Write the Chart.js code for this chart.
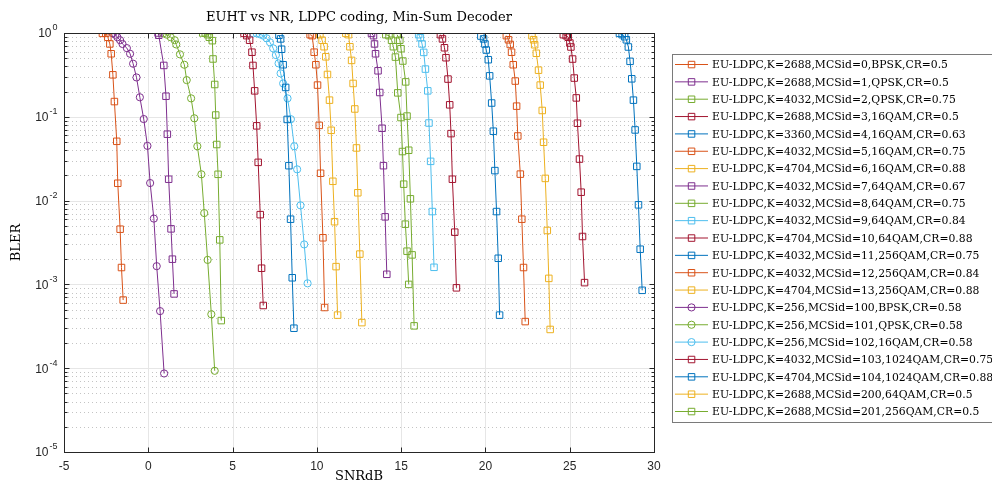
<!DOCTYPE html>
<html>
<head>
<meta charset="utf-8">
<script src="https://cdn.jsdelivr.net/npm/chart.js@4.4.0/dist/chart.umd.min.js"></script>
<style>
html, body { margin: 0; padding: 0; background: #fff; }
</style>
</head>
<body>
<canvas id="myChart" width="992" height="484"></canvas>
<script>
// SNR (dB) / BLER points per MCS
const snr0 = [-2.72, -2.52, -2.40, -2.28, -2.20, -2.10, -2.01, -1.87, -1.81, -1.67, -1.59, -1.49];
const bler0 = [0.99, 0.99, 0.89, 0.74, 0.565, 0.317, 0.152, 0.051, 0.0161, 0.00456, 0.00159, 0.00065];
const snr1 = [0.58, 0.62, 0.92, 1.05, 1.13, 1.21, 1.35, 1.43, 1.53];
const bler1 = [1.0, 0.94, 0.41, 0.176, 0.062, 0.018, 0.0046, 0.002, 0.00077];
const snr2 = [3.23, 3.38, 3.52, 3.62, 3.80, 3.84, 3.94, 4.00, 4.06, 4.14, 4.24, 4.33];
const bler2 = [1.0, 1.0, 0.955, 0.89, 0.81, 0.49, 0.243, 0.105, 0.0467, 0.0206, 0.0034, 0.00037];
const snr3 = [5.68, 5.84, 6.01, 6.15, 6.21, 6.31, 6.43, 6.52, 6.64, 6.72, 6.82];
const bler3 = [0.99, 0.93, 0.82, 0.59, 0.41, 0.204, 0.078, 0.0286, 0.0068, 0.00156, 0.00056];
const snr4 = [7.75, 7.85, 7.91, 8.00, 8.15, 8.24, 8.34, 8.44, 8.54, 8.64];
const bler4 = [0.94, 0.85, 0.64, 0.418, 0.224, 0.093, 0.0261, 0.006, 0.0012, 0.0003];
const snr5 = [9.60, 9.72, 9.84, 9.94, 10.04, 10.14, 10.22, 10.36, 10.46];
const bler5 = [0.955, 0.93, 0.59, 0.418, 0.239, 0.079, 0.0212, 0.0036, 0.00053];
const snr6 = [10.18, 10.31, 10.43, 10.53, 10.63, 10.75, 10.85, 10.95, 11.05, 11.14, 11.23];
const bler6 = [0.955, 0.82, 0.686, 0.52, 0.32, 0.158, 0.069, 0.017, 0.0056, 0.00163, 0.00043];
const snr7 = [13.24, 13.36, 13.42, 13.48, 13.63, 13.73, 13.87, 13.95, 14.05, 14.15];
const bler7 = [0.99, 0.93, 0.74, 0.565, 0.354, 0.195, 0.073, 0.0261, 0.0064, 0.00132];
const snr8 = [14.09, 14.28, 14.43, 14.54, 14.66, 14.80, 14.99, 15.08, 15.15, 15.25, 15.35, 15.45];
const bler8 = [0.955, 0.93, 0.82, 0.686, 0.516, 0.193, 0.098, 0.0385, 0.0157, 0.00523, 0.00249, 0.001];
const snr9 = [16.04, 16.14, 16.24, 16.34, 16.44, 16.58, 16.65, 16.75, 16.85, 16.95];
const bler9 = [0.955, 0.879, 0.74, 0.587, 0.371, 0.204, 0.0843, 0.0294, 0.0074, 0.0016];
const snr10 = [17.33, 17.45, 17.57, 17.66, 17.78, 17.88, 17.96, 18.04, 18.18, 18.28];
const bler10 = [0.955, 0.85, 0.667, 0.507, 0.282, 0.139, 0.063, 0.018, 0.0042, 0.00091];
const snr11 = [19.73, 19.89, 19.97, 20.05, 20.17, 20.25, 20.37, 20.47, 20.56, 20.66, 20.76, 20.84];
const bler11 = [0.92, 0.85, 0.74, 0.626, 0.48, 0.308, 0.146, 0.0673, 0.0228, 0.0074, 0.00205, 0.00043];
const snr12 = [21.24, 21.37, 21.47, 21.55, 21.65, 21.77, 21.85, 21.92, 22.07, 22.16, 22.26, 22.36];
const bler12 = [0.93, 0.83, 0.73, 0.59, 0.418, 0.267, 0.134, 0.059, 0.0207, 0.006, 0.00159, 0.00036];
const snr13 = [22.76, 22.86, 22.92, 23.02, 23.15, 23.25, 23.37, 23.45, 23.55, 23.67, 23.76, 23.84];
const bler13 = [0.93, 0.83, 0.724, 0.573, 0.36, 0.239, 0.119, 0.0497, 0.0184, 0.0044, 0.00118, 0.00029];
const snr100 = [-2.10, -1.95, -1.83, -1.67, -1.53, -1.27, -1.08, -0.90, -0.70, -0.50, -0.27, -0.05, 0.11, 0.33, 0.50, 0.70, 0.94];
const bler100 = [0.99, 0.955, 0.89, 0.82, 0.74, 0.66, 0.565, 0.43, 0.295, 0.171, 0.094, 0.045, 0.0162, 0.0061, 0.00165, 0.00048, 0.0000865];
const snr101 = [0.89, 1.10, 1.33, 1.57, 1.66, 1.88, 2.14, 2.28, 2.54, 2.73, 2.91, 3.15, 3.32, 3.52, 3.74, 3.94];
const bler101 = [0.99, 0.955, 0.89, 0.82, 0.73, 0.556, 0.418, 0.274, 0.166, 0.096, 0.0445, 0.0206, 0.0071, 0.00196, 0.00044, 0.0000931];
const snr102 = [6.23, 6.43, 6.62, 6.82, 7.02, 7.22, 7.41, 7.57, 7.73, 7.85, 8.00, 8.26, 8.46, 8.66, 8.83, 9.03, 9.25, 9.45];
const bler102 = [0.99, 0.99, 0.965, 0.93, 0.865, 0.774, 0.656, 0.545, 0.434, 0.33, 0.25, 0.166, 0.0936, 0.0445, 0.0236, 0.00877, 0.003, 0.00103];
const snr103 = [24.62, 24.79, 24.91, 25.01, 25.07, 25.17, 25.27, 25.39, 25.46, 25.58, 25.68, 25.76, 25.88];
const bler103 = [0.955, 0.93, 0.89, 0.759, 0.681, 0.489, 0.29, 0.168, 0.0838, 0.0313, 0.0126, 0.00373, 0.00105];
const snr104 = [27.95, 28.11, 28.26, 28.36, 28.48, 28.58, 28.68, 28.78, 28.88, 28.98, 29.08, 29.18, 29.30];
const bler104 = [0.99, 0.955, 0.903, 0.83, 0.681, 0.459, 0.284, 0.158, 0.0697, 0.0256, 0.0089, 0.00263, 0.00085];
const snr200 = [11.72, 11.88, 11.96, 12.06, 12.15, 12.25, 12.35, 12.43, 12.55, 12.67];
const bler200 = [0.99, 0.955, 0.686, 0.471, 0.25, 0.124, 0.0425, 0.0124, 0.0023, 0.00035];
const snr201 = [14.76, 14.92, 14.99, 15.10, 15.27, 15.35, 15.45, 15.55, 15.65, 15.77];
const bler201 = [0.955, 0.82, 0.649, 0.463, 0.261, 0.102, 0.0399, 0.0105, 0.00225, 0.00032];

const legendLabels = [
    'EU-LDPC,K=2688,MCSid=0,BPSK,CR=0.5',
    'EU-LDPC,K=2688,MCSid=1,QPSK,CR=0.5',
    'EU-LDPC,K=4032,MCSid=2,QPSK,CR=0.75',
    'EU-LDPC,K=2688,MCSid=3,16QAM,CR=0.5',
    'EU-LDPC,K=3360,MCSid=4,16QAM,CR=0.63',
    'EU-LDPC,K=4032,MCSid=5,16QAM,CR=0.75',
    'EU-LDPC,K=4704,MCSid=6,16QAM,CR=0.88',
    'EU-LDPC,K=4032,MCSid=7,64QAM,CR=0.67',
    'EU-LDPC,K=4032,MCSid=8,64QAM,CR=0.75',
    'EU-LDPC,K=4032,MCSid=9,64QAM,CR=0.84',
    'EU-LDPC,K=4704,MCSid=10,64QAM,CR=0.88',
    'EU-LDPC,K=4032,MCSid=11,256QAM,CR=0.75',
    'EU-LDPC,K=4032,MCSid=12,256QAM,CR=0.84',
    'EU-LDPC,K=4704,MCSid=13,256QAM,CR=0.88',
    'EU-LDPC,K=256,MCSid=100,BPSK,CR=0.58',
    'EU-LDPC,K=256,MCSid=101,QPSK,CR=0.58',
    'EU-LDPC,K=256,MCSid=102,16QAM,CR=0.58',
    'EU-LDPC,K=4032,MCSid=103,1024QAM,CR=0.75',
    'EU-LDPC,K=4704,MCSid=104,1024QAM,CR=0.88',
    'EU-LDPC,K=2688,MCSid=200,64QAM,CR=0.5',
    'EU-LDPC,K=2688,MCSid=201,256QAM,CR=0.5'
];

const xTicks = [-5, 0, 5, 10, 15, 20, 25, 30];
const yExponents = [0, -1, -2, -3, -4, -5];

// MATLAB default colours
const ORANGE = '#D95319', PURPLE = '#7E2F8E', GREEN = '#77AC30', DARKRED = '#A2142F',
      BLUE = '#0072BD', YELLOW = '#EDB120', LIGHTBLUE = '#4DBEEE';

const seriesList = [
    [snr0, bler0, ORANGE, 'rect'],
    [snr1, bler1, PURPLE, 'rect'],
    [snr2, bler2, GREEN, 'rect'],
    [snr3, bler3, DARKRED, 'rect'],
    [snr4, bler4, BLUE, 'rect'],
    [snr5, bler5, ORANGE, 'rect'],
    [snr6, bler6, YELLOW, 'rect'],
    [snr7, bler7, PURPLE, 'rect'],
    [snr8, bler8, GREEN, 'rect'],
    [snr9, bler9, LIGHTBLUE, 'rect'],
    [snr10, bler10, DARKRED, 'rect'],
    [snr11, bler11, BLUE, 'rect'],
    [snr12, bler12, ORANGE, 'rect'],
    [snr13, bler13, YELLOW, 'rect'],
    [snr100, bler100, PURPLE, 'circle'],
    [snr101, bler101, GREEN, 'circle'],
    [snr102, bler102, LIGHTBLUE, 'circle'],
    [snr103, bler103, DARKRED, 'rect'],
    [snr104, bler104, BLUE, 'rect'],
    [snr200, bler200, YELLOW, 'rect'],
    [snr201, bler201, GREEN, 'rect']
];

const datasets = seriesList.map((s, i) => ({
    label: legendLabels[i],
    data: s[0].map((x, k) => ({ x: x, y: s[1][k] })),
    borderColor: s[2],
    backgroundColor: 'rgba(0,0,0,0)',
    borderWidth: 1,
    pointStyle: s[3],
    pointRadius: s[3] === 'rect' ? 4.6 : 3.6,
    pointBorderWidth: 1,
    pointBorderColor: s[2],
    pointBackgroundColor: 'rgba(0,0,0,0)',
    tension: 0
}));

const SERIF = '"DejaVu Serif", "Liberation Serif", serif';
const SANS = '"Liberation Sans", Arial, sans-serif';

function drawMarker(ctx, style, x, y, color) {
    ctx.strokeStyle = color;
    ctx.lineWidth = 1;
    ctx.beginPath();
    if (style === 'circle') {
        ctx.arc(x, y, 3.6, 0, Math.PI * 2);
    } else {
        ctx.rect(x - 3.2, y - 3.2, 6.5, 6.5);
    }
    ctx.stroke();
}

const matlabFrame = {
    id: 'matlabFrame',
    beforeDatasetsDraw(chart) {
        const { ctx, chartArea: a, scales: { x, y } } = chart;
        ctx.save();
        ctx.lineWidth = 1;
        // minor y grid, dotted
        ctx.strokeStyle = '#c4c4c4';
        ctx.setLineDash([1, 3]);
        for (let e = -5; e < 0; e++) {
            for (let m = 2; m <= 9; m++) {
                const py = Math.round(y.getPixelForValue(m * Math.pow(10, e))) + 0.5;
                ctx.beginPath();
                ctx.moveTo(a.left, py);
                ctx.lineTo(a.right, py);
                ctx.stroke();
            }
        }
        // major grid
        ctx.setLineDash([]);
        ctx.strokeStyle = '#e6e6e6';
        yExponents.slice(1, -1).forEach(e => {
            const py = Math.round(y.getPixelForValue(Math.pow(10, e))) + 0.5;
            ctx.beginPath();
            ctx.moveTo(a.left, py);
            ctx.lineTo(a.right, py);
            ctx.stroke();
        });
        xTicks.slice(1, -1).forEach(t => {
            const px = Math.round(x.getPixelForValue(t)) + 0.5;
            ctx.beginPath();
            ctx.moveTo(px, a.top);
            ctx.lineTo(px, a.bottom);
            ctx.stroke();
        });
        ctx.restore();
    },
    afterDraw(chart) {
        const { ctx, chartArea: a, scales: { x, y } } = chart;
        ctx.save();
        const L = Math.round(a.left) + 0.5, R = Math.round(a.right) + 0.5;
        const T = Math.round(a.top) + 0.5, B = Math.round(a.bottom) + 0.5;
        ctx.strokeStyle = '#262626';
        ctx.lineWidth = 1;
        // ticks (inward, all four sides)
        ctx.beginPath();
        xTicks.forEach(t => {
            const px = Math.round(x.getPixelForValue(t)) + 0.5;
            ctx.moveTo(px, B); ctx.lineTo(px, B - 5);
            ctx.moveTo(px, T); ctx.lineTo(px, T + 5);
        });
        for (let e = -5; e <= 0; e++) {
            const py = Math.round(y.getPixelForValue(Math.pow(10, e))) + 0.5;
            ctx.moveTo(L, py); ctx.lineTo(L + 5, py);
            ctx.moveTo(R, py); ctx.lineTo(R - 5, py);
            if (e < 0) {
                for (let m = 2; m <= 9; m++) {
                    const pm = Math.round(y.getPixelForValue(m * Math.pow(10, e))) + 0.5;
                    ctx.moveTo(L, pm); ctx.lineTo(L + 3, pm);
                    ctx.moveTo(R, pm); ctx.lineTo(R - 3, pm);
                }
            }
        }
        ctx.stroke();
        ctx.strokeRect(L, T, R - L, B - T);

        // tick labels
        ctx.fillStyle = '#262626';
        ctx.font = '12px ' + SANS;
        ctx.textAlign = 'center';
        ctx.textBaseline = 'middle';
        xTicks.forEach(t => {
            ctx.fillText(String(t), x.getPixelForValue(t), B + 14);
        });
        yExponents.forEach(e => {
            const py = y.getPixelForValue(Math.pow(10, e));
            const ex = String(e);
            ctx.font = '9px ' + SANS;
            const ew = ctx.measureText(ex).width;
            ctx.textAlign = 'left';
            ctx.fillText(ex, L - 7 - ew, py - 5);
            ctx.font = '12px ' + SANS;
            ctx.textAlign = 'right';
            ctx.fillText('10', L - 8 - ew, py + 1);
        });

        // titles
        ctx.fillStyle = '#000';
        ctx.textAlign = 'center';
        ctx.font = '13px ' + SERIF;
        ctx.fillText('EUHT vs NR, LDPC coding, Min-Sum Decoder', (a.left + a.right) / 2, 18);
        ctx.fillText('SNRdB', (a.left + a.right) / 2, 477);
        ctx.save();
        ctx.translate(17, (a.top + a.bottom) / 2);
        ctx.rotate(-Math.PI / 2);
        ctx.fillText('BLER', 0, 0);
        ctx.restore();

        // legend box
        const lx = 672.5, ly = 54.5;
        ctx.fillStyle = '#fff';
        ctx.fillRect(lx, ly, 340, 368);
        ctx.strokeStyle = '#7a7a7a';
        ctx.strokeRect(lx, ly, 340, 368);
        ctx.font = '10.8px ' + SERIF;
        ctx.textAlign = 'left';
        seriesList.forEach((s, i) => {
            const cy = 64.5 + i * 17.35;
            ctx.strokeStyle = s[2];
            ctx.beginPath();
            ctx.moveTo(675, cy);
            ctx.lineTo(708, cy);
            ctx.stroke();
            drawMarker(ctx, s[3], 691.5, cy, s[2]);
            ctx.fillStyle = '#000';
            ctx.fillText(legendLabels[i], 712, cy + 1);
        });
        ctx.restore();
    }
};

new Chart(document.getElementById('myChart').getContext('2d'), {
    type: 'line',
    data: { datasets: datasets },
    options: {
        responsive: false,
        animation: false,
        devicePixelRatio: 1,
        layout: { padding: { left: 64, top: 33, right: 338, bottom: 32 } },
        plugins: { legend: { display: false }, tooltip: { enabled: false }, title: { display: false } },
        scales: {
            x: { type: 'linear', min: -5, max: 30, display: false },
            y: { type: 'logarithmic', min: 1e-5, max: 1, display: false }
        }
    },
    plugins: [matlabFrame]
});
</script>
</body>
</html>
